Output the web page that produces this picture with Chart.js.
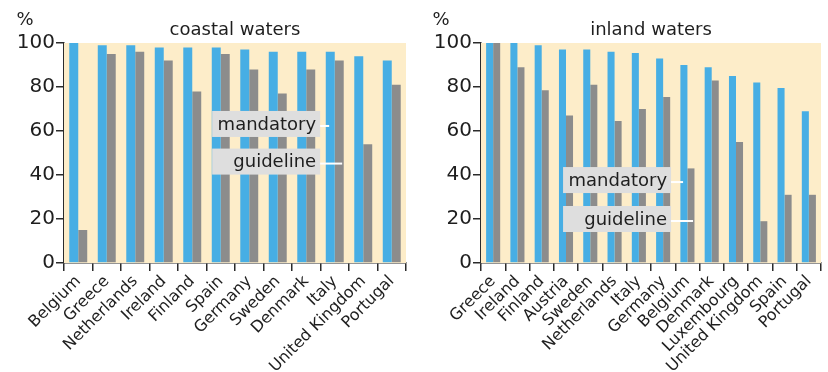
<!DOCTYPE html>
<html>
<head>
<meta charset="utf-8">
<script src="https://cdn.jsdelivr.net/npm/chart.js@4.4.1/dist/chart.umd.min.js"></script>
<style>
  html, body { margin: 0; padding: 0; background: #ffffff; }
  #wrap { position: relative; width: 828px; height: 372px; overflow: hidden; }
  canvas { position: absolute; top: 0; }
  #c1 { left: 0; }
  #c2 { left: 414px; }
</style>
</head>
<body>
<div id="wrap">
  <canvas id="c1" width="414" height="372"></canvas>
  <canvas id="c2" width="414" height="372"></canvas>
</div>
<script>
// ---- data ----
const coastalCountries = ['Belgium','Greece','Netherlands','Ireland','Finland','Spain','Germany','Sweden','Denmark','Italy','United Kingdom','Portugal'];
const coastalMandatory = [100, 99, 99, 98, 98, 98, 97, 96, 96, 96, 94, 92];
const coastalGuideline = [15, 95, 96, 92, 78, 95, 88, 77, 88, 92, 54, 81];

const inlandCountries = ['Greece','Ireland','Finland','Austria','Sweden','Netherlands','Italy','Germany','Belgium','Denmark','Luxembourg','United Kingdom','Spain','Portugal'];
const inlandMandatory = [100, 100, 99, 97, 97, 96, 95.5, 93, 90, 89, 85, 82, 79.5, 69];
const inlandGuideline = [100, 89, 78.5, 67, 81, 64.5, 70, 75.5, 43, 83, 55, 19, 31, 31];

const seriesNames = ['mandatory', 'guideline'];
const yTickValues = [0, 20, 40, 60, 80, 100];
const titles = ['coastal waters', 'inland waters'];
const unitLabel = '%';

// ---- style ----
const FONT = "'DejaVu Sans', sans-serif";
const BLUE = '#47aee4';
const GREY = '#8c8c8c';
const BG = '#fdedc9';
const AXIS = '#2b2b2b';
const TEXT = '#1e1e1e';

const deco = {
  id: 'deco',
  beforeDatasetsDraw(chart) {
    const a = chart.chartArea, ctx = chart.ctx;
    ctx.save();
    ctx.fillStyle = BG;
    ctx.fillRect(a.left, a.top, a.right - a.left, a.bottom - a.top);
    ctx.restore();
  },
  afterDraw(chart, args, o) {
    const a = chart.chartArea, ctx = chart.ctx;
    const xs = chart.scales.x, ys = chart.scales.y;
    ctx.save();
    // title
    ctx.fillStyle = TEXT;
    ctx.font = '18px ' + FONT;
    ctx.textAlign = 'center';
    ctx.textBaseline = 'middle';
    ctx.fillText(o.title, (a.left + a.right) / 2, 30);
    // unit
    ctx.font = '18px ' + FONT;
    ctx.fillText(unitLabel, o.unitX, 20);
    // series labels
    const rightX = xs.left + o.boxRightFrac * (xs.right - xs.left);
    o.boxes.forEach((b, i) => {
      const cy = ys.getPixelForValue(b.yVal);
      const w = 108, h = 26;
      ctx.fillStyle = '#dedede';
      ctx.fillRect(rightX - w, cy - h / 2, w, h);
      ctx.fillStyle = TEXT;
      ctx.font = '18px ' + FONT;
      ctx.textAlign = 'right';
      ctx.textBaseline = 'middle';
      ctx.fillText(chart.data.datasets[i].label, rightX - 4, cy + 1);
      ctx.strokeStyle = '#ffffff';
      ctx.lineWidth = 2;
      ctx.beginPath();
      ctx.moveTo(rightX, cy + 2);
      ctx.lineTo(rightX + b.lineLen, cy + 2);
      ctx.stroke();
    });
    ctx.restore();
  }
};

function makeChart(id, labels, mand, guide, cfg) {
  return new Chart(document.getElementById(id), {
    type: 'bar',
    data: {
      labels: labels,
      datasets: [
        { label: seriesNames[0], data: mand, backgroundColor: BLUE, borderWidth: 0 },
        { label: seriesNames[1], data: guide, backgroundColor: GREY, borderWidth: 0 }
      ]
    },
    options: {
      responsive: false,
      animation: false,
      devicePixelRatio: 1,
      layout: { padding: { top: 43, left: 0, right: cfg.padRight, bottom: 0 } },
      datasets: { bar: { categoryPercentage: cfg.catPct, barPercentage: 1 } },
      plugins: {
        legend: { display: false },
        tooltip: { enabled: false },
        title: { display: false },
        deco: cfg.deco
      },
      scales: {
        x: {
          grid: { display: true, drawOnChartArea: false, drawTicks: true, tickLength: 8, color: AXIS, lineWidth: 1.5, offset: true },
          border: { display: true, color: AXIS, width: 1.5 },
          ticks: { color: TEXT, font: { family: FONT, size: 16 }, minRotation: 45, maxRotation: 45, autoSkip: false, padding: 1 },
          afterFit(s) { s.height = 109; }
        },
        y: {
          min: 0, max: 100,
          afterBuildTicks(s) {
            const t = [];
            for (let v = 0; v <= 100; v += 10) t.push({ value: v });
            s.ticks = t;
          },
          grid: { display: true, drawOnChartArea: false, drawTicks: true, tickLength: 8, color: AXIS, lineWidth: 1.5 },
          border: { display: true, color: AXIS, width: 1.5 },
          ticks: {
            color: TEXT, font: { family: FONT, size: 20 }, padding: 1,
            callback: (v) => yTickValues.includes(v) ? String(v) : ''
          },
          afterFit(s) { s.width = cfg.yWidth; }
        }
      }
    },
    plugins: [deco]
  });
}

makeChart('c1', coastalCountries, coastalMandatory, coastalGuideline, {
  padRight: 8, yWidth: 64, catPct: 0.63,
  deco: { title: titles[0], unitX: 25, boxRightFrac: 0.749,
          boxes: [{ yVal: 63.2, lineLen: 9 }, { yVal: 46.1, lineLen: 22 }] }
});
makeChart('c2', inlandCountries, inlandMandatory, inlandGuideline, {
  padRight: 7, yWidth: 67, catPct: 0.58,
  deco: { title: titles[1], unitX: 27, boxRightFrac: 0.559,
          boxes: [{ yVal: 37.7, lineLen: 12 }, { yVal: 20, lineLen: 22 }] }
});
</script>
</body>
</html>
